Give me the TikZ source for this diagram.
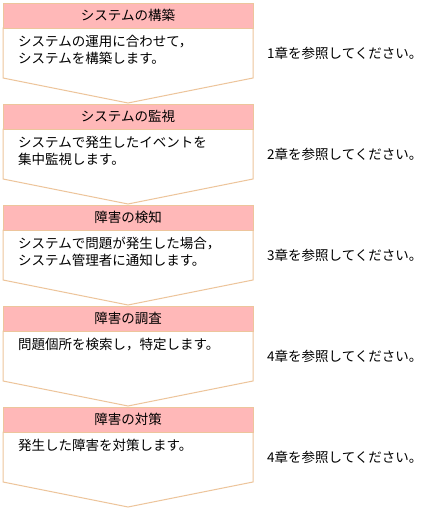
\documentclass[tikz,border=0pt]{standalone}
\usepackage{fontspec}
\setmainfont{Noto Sans CJK JP}
\definecolor{headpink}{HTML}{FFB8B8}
\definecolor{edgetan}{HTML}{EDC59C}

\begin{document}
\begin{tikzpicture}[x=1pt, y=1pt,
    headbox/.style={fill=headpink, draw=edgetan, line width=0.8pt},
    chevron/.style={fill=white, draw=edgetan, line width=1pt},
    headtext/.style={font=\fontsize{13.5}{16}\selectfont},
    bodytext/.style={font=\fontsize{13.5}{17}\selectfont, align=left, anchor=north west, inner sep=0pt},
    reftext/.style={font=\fontsize{13.5}{16}\selectfont, anchor=west, inner sep=0pt}]
  \useasboundingbox (0,0) rectangle (433,-511);

  % Five steps, one below the other
  \foreach \i/\head/\body/\chap in {
      1/システムの構築/{システムの運用に合わせて，\\システムを構築します。}/1,
      2/システムの監視/{システムで発生したイベントを\\集中監視します。}/2,
      3/障害の検知/{システムで問題が発生した場合，\\システム管理者に通知します。}/3,
      4/障害の調査/{問題個所を検索し，特定します。}/4,
      5/障害の対策/{発生した障害を対策します。}/4} {
    \pgfmathsetmacro{\top}{-3-101*(\i-1)}

    % Body with pointed bottom
    \draw[chevron] (3,\top-25) -- (3,\top-75) -- (128,\top-100) -- (253,\top-75) -- (253,\top-25) -- cycle;

    % Header bar
    \draw[headbox] (3,\top) rectangle (253,\top-25);
    \node[headtext] (head\i) at (128,\top-12.5) {\head};

    % Description and reference
    \node[bodytext] (body\i) at (18,\top-32) {\body};
    \node[reftext] (ref\i) at (267,\top-50) {\chap 章を参照してください。};
  }
\end{tikzpicture}
\end{document}
